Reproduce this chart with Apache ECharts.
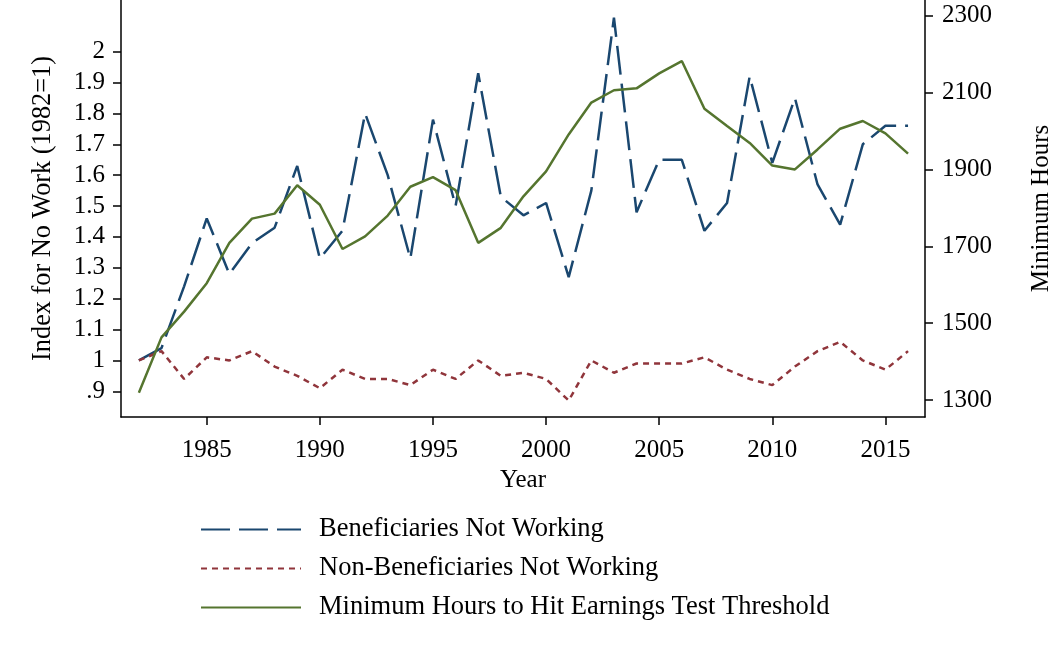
<!DOCTYPE html>
<html>
<head>
<meta charset="utf-8">
<script src="https://cdn.jsdelivr.net/npm/echarts@6/dist/echarts.min.js"></script>
<style>
  html, body { margin: 0; padding: 0; background: #fff; }
  #chart { width: 1051px; height: 662px; }
</style>
</head>
<body>
<div id="chart"></div>
<script>
// Years on the x axis
const years = [1982, 1983, 1984, 1985, 1986, 1987, 1988, 1989, 1990, 1991,
  1992, 1993, 1994, 1995, 1996, 1997, 1998, 1999, 2000, 2001,
  2002, 2003, 2004, 2005, 2006, 2007, 2008, 2009, 2010, 2011,
  2012, 2013, 2014, 2015, 2016];

// Index for no work (1982=1), left axis
const beneficiaries = [1.00, 1.04, 1.24, 1.46, 1.28, 1.38, 1.43, 1.63, 1.33, 1.42,
  1.80, 1.60, 1.33, 1.78, 1.50, 1.93, 1.53, 1.47, 1.51, 1.27,
  1.55, 2.11, 1.48, 1.65, 1.65, 1.42, 1.51, 1.92, 1.64, 1.85,
  1.57, 1.44, 1.70, 1.76, 1.76];
const nonBeneficiaries = [1.00, 1.03, 0.94, 1.01, 1.00, 1.03, 0.98, 0.95, 0.91, 0.97,
  0.94, 0.94, 0.92, 0.97, 0.94, 1.00, 0.95, 0.96, 0.94, 0.87,
  1.00, 0.96, 0.99, 0.99, 0.99, 1.01, 0.97, 0.94, 0.92, 0.98,
  1.03, 1.06, 1.00, 0.97, 1.03];

// Minimum hours to hit earnings test threshold, right axis
const minHours = [1319, 1463, 1530, 1604, 1709, 1772, 1785, 1859, 1808, 1693,
  1726, 1780, 1855, 1880, 1846, 1709, 1748, 1830, 1895, 1991,
  2074, 2106, 2111, 2150, 2182, 2058, 2013, 1969, 1910, 1900,
  1952, 2006, 2026, 1994, 1941];

// Tick labels
const yearTicks = [1985, 1990, 1995, 2000, 2005, 2010, 2015];
const indexTicks = [0.9, 1, 1.1, 1.2, 1.3, 1.4, 1.5, 1.6, 1.7, 1.8, 1.9, 2];
const hourTicks = [1300, 1500, 1700, 1900, 2100, 2300];

const seriesNames = [
  'Beneficiaries Not Working',
  'Non-Beneficiaries Not Working',
  'Minimum Hours to Hit Earnings Test Threshold'
];

const FONT = 'Liberation Serif';
const pair = (vals) => years.map((y, i) => [y, vals[i]]);

const chart = echarts.init(document.getElementById('chart'));

const axisCommon = {
  axisLine: { show: true, onZero: false, lineStyle: { color: '#000', width: 1.5 } },
  axisTick: { show: true, length: 8, lineStyle: { color: '#000', width: 1.5 } },
  splitLine: { show: false },
  nameTextStyle: { color: '#000', fontFamily: FONT, fontSize: 25 }
};

chart.setOption({
  animation: false,
  backgroundColor: '#fff',
  grid: { left: 121, right: 126, top: 0, bottom: 245, containLabel: false, outerBoundsMode: 'none' },
  legend: {
    orient: 'vertical',
    left: 200,
    top: 516,
    padding: 0,
    itemWidth: 100,
    itemHeight: 20,
    itemGap: 12,
    itemStyle: { opacity: 0 },
    textStyle: { color: '#000', fontFamily: FONT, fontSize: 26.5, padding: [0, 0, 0, 13] },
    data: seriesNames
  },
  xAxis: Object.assign({}, axisCommon, {
    type: 'value',
    min: 1981.21,
    max: 2016.75,
    name: 'Year',
    nameLocation: 'middle',
    nameGap: 46,
    axisTick: Object.assign({}, axisCommon.axisTick, { customValues: yearTicks }),
    axisLabel: {
      customValues: yearTicks,
      margin: 21,
      color: '#000',
      fontFamily: FONT,
      fontSize: 25,
      formatter: (v) => String(v)
    }
  }),
  yAxis: [
    Object.assign({}, axisCommon, {
      type: 'value',
      position: 'left',
      min: 0.8167,
      max: 2.1675,
      name: 'Index for No Work (1982=1)',
      nameLocation: 'middle',
      nameGap: 65,
      nameTextStyle: { color: '#000', fontFamily: FONT, fontSize: 26.3 },
      axisTick: Object.assign({}, axisCommon.axisTick, { customValues: indexTicks }),
      axisLabel: {
        customValues: indexTicks,
        margin: 16,
        color: '#000',
        fontFamily: FONT,
        fontSize: 25,
        formatter: (v) => (v < 1 ? String(v).replace('0.', '.') : String(v))
      }
    }),
    Object.assign({}, axisCommon, {
      type: 'value',
      position: 'right',
      min: 1255.8,
      max: 2340.9,
      name: 'Minimum Hours',
      nameLocation: 'middle',
      nameGap: 104,
      axisTick: Object.assign({}, axisCommon.axisTick, { customValues: hourTicks }),
      axisLabel: {
        customValues: hourTicks,
        margin: 17,
        color: '#000',
        fontFamily: FONT,
        fontSize: 25,
        formatter: (v) => String(v)
      }
    })
  ],
  series: [
    {
      name: seriesNames[0],
      type: 'line',
      yAxisIndex: 0,
      symbol: 'none',
      color: '#1a476f',
      lineStyle: { color: '#1a476f', width: 2.5, type: [29, 9] },
      data: pair(beneficiaries)
    },
    {
      name: seriesNames[1],
      type: 'line',
      yAxisIndex: 0,
      symbol: 'none',
      color: '#90353b',
      lineStyle: { color: '#90353b', width: 2.5, type: [6, 5] },
      data: pair(nonBeneficiaries)
    },
    {
      name: seriesNames[2],
      type: 'line',
      yAxisIndex: 1,
      symbol: 'none',
      color: '#55752f',
      lineStyle: { color: '#55752f', width: 2.5 },
      data: pair(minHours)
    }
  ]
});
</script>
</body>
</html>
